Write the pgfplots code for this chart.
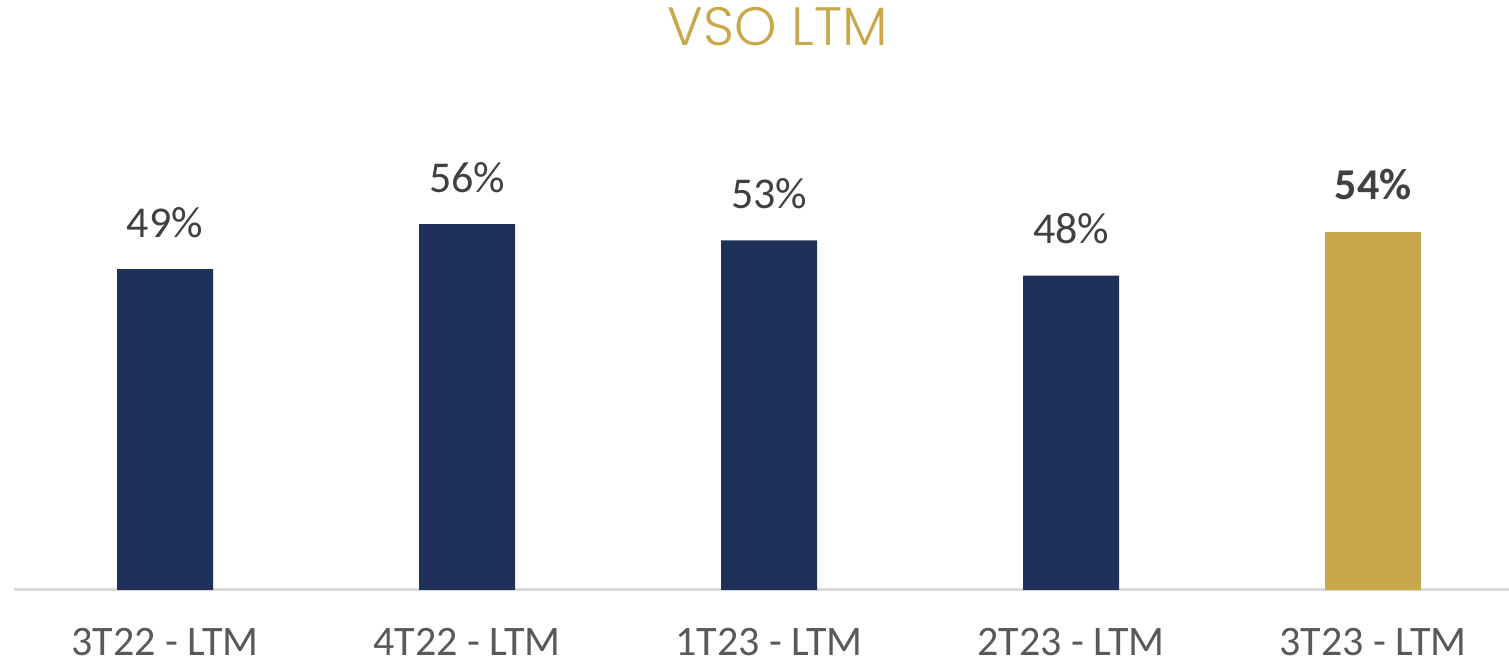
\documentclass[border=0pt]{standalone}
\usepackage{pgfplots}
\pgfplotsset{compat=1.18}
\usepackage{fontspec}
\setmainfont{Carlito}
\newfontfamily\titlefont{Poppins Light}

\definecolor{navy}{HTML}{1F3158}
\definecolor{gold}{HTML}{C8A84B}
\definecolor{txt}{HTML}{404040}
\definecolor{ticktxt}{HTML}{595959}
\definecolor{axisgray}{HTML}{D9D9D9}

\begin{document}
\begin{tikzpicture}
  \begin{axis}[
    scale only axis,
    width=747.5pt,
    height=245pt,
    xmin=-0.5, xmax=4.45,
    ymin=0, ymax=75,
    axis y line=none,
    axis x line*=bottom,
    axis line style={draw=axisgray, line width=1.5pt},
    x axis line style={-},
    xtick={0,1,2,3,4},
    xticklabels={3T22 - LTM, 4T22 - LTM, 1T23 - LTM, 2T23 - LTM, 3T23 - LTM},
    major tick length=0pt,
    xticklabel style={font=\fontsize{21}{24}\selectfont, text=ticktxt, anchor=base, yshift=-32.5pt},
    ybar,
    bar width=48pt,
    bar shift=0pt,
    clip=false,
    point meta=explicit symbolic,
    nodes near coords={\pgfplotspointmeta\%},
    every node near coord/.append style={anchor=base, yshift=16pt, text=txt,
      font=\fontsize{22}{26}\selectfont},
  ]
    \addplot[fill=navy, draw=none] coordinates {(0,49.1) [49] (1,56.0) [56] (2,53.5) [53] (3,48.1) [48]};
    \addplot[fill=gold, draw=none,
      every node near coord/.append style={font=\fontsize{22}{26}\selectfont\bfseries}]
      coordinates {(4,54.8) [54]};
    \coordinate (bl) at (rel axis cs:0,0);
    \coordinate (tr) at (rel axis cs:1,1);
    \node[text=gold, font=\fontsize{27}{32}\selectfont\titlefont] at (rel axis cs:0.511,1) [yshift=36.5pt] {VSO LTM};
  \end{axis}
  \pgfresetboundingbox
  \path[use as bounding box] ([xshift=-7pt,yshift=-36.5pt]bl) rectangle ([yshift=50pt]tr);
\end{tikzpicture}
\end{document}
